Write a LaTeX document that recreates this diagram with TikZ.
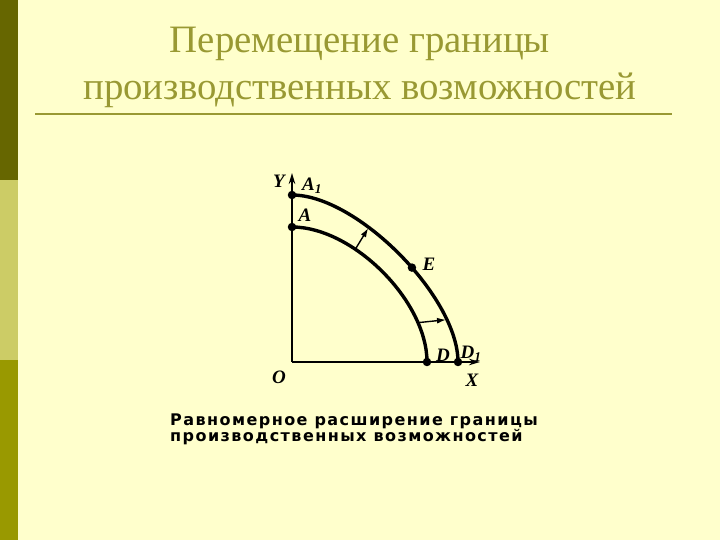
\documentclass[tikz,border=0pt]{standalone}
\usepackage{fontspec}
\setmainfont{Liberation Serif}
\newfontfamily\capfont[LetterSpace=9]{DejaVu Sans}
\usetikzlibrary{arrows.meta}
\definecolor{slidebg}{RGB}{255,255,204}
\definecolor{olive}{RGB}{153,153,51}
\definecolor{bartop}{RGB}{102,102,0}
\definecolor{barmid}{RGB}{204,204,102}
\definecolor{barbot}{RGB}{153,153,0}
\begin{document}
\begin{tikzpicture}[x=1bp,y=1bp,inner sep=0pt,
    dot/.style={circle,fill=black,minimum size=8.5bp},
    lbl/.style={font=\fontsize{19bp}{21bp}\selectfont\bfseries\itshape},
    curve/.style={line width=3.4bp},
    shift arrow/.style={-{Latex[length=9bp,width=6bp]},line width=1.4bp,shorten >=1bp}]
    \useasboundingbox (0,0) rectangle (720,540);
    \fill[slidebg] (0,0) rectangle (720,540);
    % side bar
    \fill[bartop] (0,360) rectangle (18,540);
    \fill[barmid] (0,180) rectangle (18,360);
    \fill[barbot] (0,0) rectangle (18,180);
    % title
    \node (title1) at (360,487) [anchor=base,text=olive,font=\fontsize{38.8bp}{44bp}\selectfont] {Перемещение границы};
    \node (title2) at (360,440) [anchor=base,text=olive,font=\fontsize{38.8bp}{44bp}\selectfont] {производственных возможностей};
    \draw[olive,line width=2.2bp] (35,426) -- (672,426);
    % axes
    \coordinate (O) at (292,178);
    \coordinate (ytip) at (292,367);
    \coordinate (xtip) at (480,178);
    \draw[-{Stealth[length=11bp,width=6.5bp]},line width=2.3bp] (O) -- (ytip);
    \draw[-{Stealth[length=11bp,width=6.5bp]},line width=2.3bp] (O) -- (xtip);
    \coordinate (A1) at (292,345);
    \coordinate (A) at (292,313);
    \coordinate (D) at (427,178);
    \coordinate (D1) at (458,178);
    % old and new frontier
    \draw[curve] (A) .. controls +(61,0) and +(0,61) .. (D)
        coordinate[pos=0.34] (in1) coordinate[pos=0.79] (in2);
    \draw[curve] (A1) .. controls +(65,0) and +(0,65) .. (D1)
        coordinate[pos=0.355] (out1) coordinate[pos=0.8] (out2)
        coordinate[pos=0.565] (E);
    \draw[shift arrow] (in1) -- (out1);
    \draw[shift arrow] (in2) -- (out2);
    \foreach \p in {A1,A,D,D1,E}
        \node[dot] (dot\p) at (\p) {};
    % labels
    \node (lY) at (279,359) [lbl] {Y};
    \node (lA1) at (312,354) [lbl] {A\textsubscript{1}};
    \node (lA) at (305,325) [lbl] {A};
    \node (lE) at (429,276) [lbl] {E};
    \node (lD) at (443,185) [lbl] {D};
    \node (lD1) at (471,186) [lbl] {D\textsubscript{1}};
    \node (lO) at (279,163) [lbl] {O};
    \node (lX) at (472,160) [lbl] {X};
    % caption
    \node (cap1) at (170,114.5) [anchor=base west,font=\capfont\bfseries\fontsize{16bp}{18bp}\selectfont] {Равномерное расширение границы};
    \node (cap2) at (170,98.5) [anchor=base west,font=\capfont\bfseries\fontsize{16bp}{18bp}\selectfont] {производственных возможностей};
\end{tikzpicture}
\end{document}
